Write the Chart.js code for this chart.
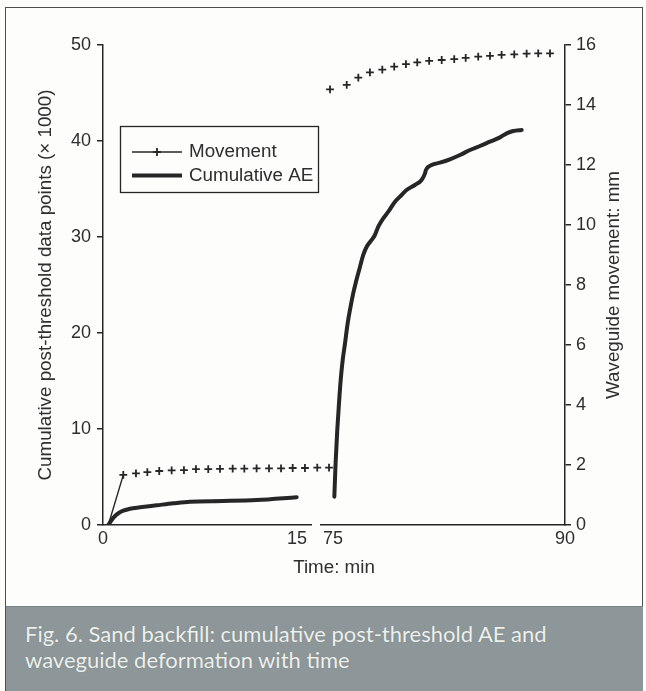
<!DOCTYPE html>
<html>
<head>
<meta charset="utf-8">
<script src="https://cdn.jsdelivr.net/npm/chart.js@4.4.1/dist/chart.umd.min.js"></script>
<style>
  html, body { margin: 0; padding: 0; background: #ffffff; }
  #figure { position: relative; width: 646px; height: 691px; overflow: hidden; background: #fdfdfc; }
  #frame { position: absolute; left: 5px; top: 7px; width: 638px; height: 700px;
           border: 1.5px solid #4d4d4d; border-bottom: none; box-sizing: border-box; }
  #chart { position: absolute; left: 0; top: 0; }
  #caption { position: absolute; left: 6px; right: 3px; top: 606px; bottom: 0;
             background: #8d979a; border-top: 1px solid #7a8386;
             color: #eef0ec; font-family: Lato, 'Open Sans', sans-serif; font-size: 22px;
             line-height: 26px; padding: 14px 0 0 19px; box-sizing: border-box;
             text-shadow: 0 0 1px rgba(90,100,100,0.6); }
</style>
</head>
<body>
<div id="figure">
  <canvas id="chart" width="646" height="606"></canvas>
  <div id="frame"></div>
  <div id="caption">Fig. 6. Sand backfill: cumulative post-threshold AE and<br>waveguide deformation with time</div>
</div>
<script>
// ---- Data ---------------------------------------------------------------
// Cumulative post-threshold AE data points (x 1000), first interval (min)
const aeTimeEarly  = [0.41, 0.67, 0.93, 1.19, 1.57, 2.09, 2.86, 4.15, 5.44, 6.73, 9.30, 11.89, 14.98];
const aeValueEarly = [0.00, 0.52, 0.94, 1.22, 1.49, 1.70, 1.84, 2.05, 2.26, 2.43, 2.50, 2.60, 2.89];

// Cumulative post-threshold AE data points (x 1000), second interval (min)
const aeTimeLate  = [75.09, 75.17, 75.28, 75.39, 75.50, 75.63, 75.78, 75.95, 76.14, 76.31, 76.49, 76.75,
                     76.96, 77.18, 77.50, 77.71, 77.93, 78.25, 78.58, 79.01, 79.33, 79.76, 80.30, 80.73,
                     80.95, 81.01, 81.38, 81.92, 82.56, 83.21, 83.86, 84.50, 85.15, 85.80, 86.23, 86.66, 87.20];
const aeValueLate = [2.95, 6.42, 9.90, 12.67, 15.10, 17.19, 18.92, 21.00, 22.74, 24.13, 25.35, 26.91,
                     28.13, 28.99, 29.69, 30.21, 31.08, 31.94, 32.64, 33.68, 34.20, 34.90, 35.42, 35.94,
                     36.63, 36.98, 37.50, 37.74, 38.09, 38.54, 39.06, 39.48, 39.93, 40.38, 40.80, 41.04, 41.15];

// Waveguide movement (mm), first interval
const moveTimeEarly  = [0.41, 1.57, 2.55, 3.43, 4.35, 5.31, 6.26, 7.19, 8.14, 9.05, 10.03, 10.93,
                        11.88, 12.84, 13.77, 14.67, 15.62, 16.57, 17.48];
const moveValueEarly = [0.00, 1.67, 1.72, 1.76, 1.80, 1.82, 1.83, 1.86, 1.86, 1.87, 1.88, 1.88,
                        1.89, 1.89, 1.89, 1.90, 1.90, 1.91, 1.91];

// Waveguide movement (mm), second interval
const moveTimeLate  = [74.81, 75.89, 76.64, 77.39, 78.19, 78.96, 79.72, 80.45, 81.22, 82.03, 82.84,
                       83.58, 84.39, 85.15, 85.90, 86.72, 87.52, 88.27, 89.03];
const moveValueLate = [14.52, 14.67, 14.91, 15.09, 15.18, 15.28, 15.36, 15.42, 15.47, 15.50, 15.53,
                       15.57, 15.61, 15.64, 15.67, 15.69, 15.71, 15.72, 15.72];

// Axis ticks and labels
const timeTicksEarly = [0, 15];
const timeTicksLate  = [75, 90];
const aeAxisMax = 50, aeAxisStep = 10;
const moveAxisMax = 16, moveAxisStep = 2;
const seriesNames = { move: 'Movement', ae: 'Cumulative AE' };
const titles = {
  time: 'Time: min',
  ae: 'Cumulative post-threshold data points (\u00D7 1000)',
  move: 'Waveguide movement: mm'
};

// ---- Chart --------------------------------------------------------------
const INK = '#262626';
const TEXT = '#2e2e2e';
const FONT = "'Liberation Sans', Arial, Helvetica, sans-serif";
const TITLE_SIZE = 18.8;
Chart.defaults.font.family = FONT;
Chart.defaults.font.size = 18;
Chart.defaults.color = TEXT;

const zip = (xs, ys) => xs.map((x, i) => ({ x, y: ys[i] }));

const aeStyle = {
  showLine: true, borderColor: INK, borderWidth: 4, pointRadius: 0,
  cubicInterpolationMode: 'monotone', fill: false, borderCapStyle: 'round', borderJoinStyle: 'round'
};
const crossRadius = 3.9;

const datasets = [
  {
    label: seriesNames.move, xAxisID: 'x1', yAxisID: 'y2',
    data: zip(moveTimeEarly, moveValueEarly),
    clip: false,   // the last readings run on past the end of the first segment
    showLine: true, borderColor: INK, borderWidth: 1.4,
    pointStyle: 'cross', pointRadius: moveTimeEarly.map((_, i) => i === 0 ? 0 : crossRadius),
    pointBorderWidth: 1.8, pointBorderColor: INK,
    // only the rise to the first reading is joined by a line
    segment: { borderColor: c => c.p0DataIndex === 0 ? INK : 'rgba(0,0,0,0)' }
  },
  {
    label: seriesNames.move, xAxisID: 'x2', yAxisID: 'y2',
    data: zip(moveTimeLate, moveValueLate),
    clip: false,
    showLine: false, borderColor: INK, borderWidth: 1.4,
    pointStyle: 'cross', pointRadius: crossRadius, pointBorderWidth: 1.8, pointBorderColor: INK
  },
  Object.assign({ label: seriesNames.ae, xAxisID: 'x1', yAxisID: 'y', data: zip(aeTimeEarly, aeValueEarly) }, aeStyle),
  Object.assign({ label: seriesNames.ae, xAxisID: 'x2', yAxisID: 'y', data: zip(aeTimeLate, aeValueLate) }, aeStyle)
];

// segment widths of the broken time axis (px)
const seg = { early: 208, gap: 10, late: 244 };
const pxPerMinEarly = 12.93, pxPerMinLate = 15.47;
const earlyRange = { min: 0, max: seg.early / pxPerMinEarly };
const lateRange = { min: 90 - seg.late / pxPerMinLate, max: 90 };

const fixedTicks = values => scale => { scale.ticks = values.map(v => ({ value: v })); };
// range fixed after the data limits so that readings past the segment end are still drawn
const fixedRange = r => scale => { scale.min = r.min; scale.max = r.max; };

const hiddenGrid = { display: false, drawTicks: false };
const axisBorder = { display: true, color: INK, width: 1.5 };

// Legend drawn inside the plot area
const innerLegend = {
  id: 'innerLegend',
  afterDatasetsDraw(chart) {
    const { ctx, chartArea } = chart;
    const x0 = chartArea.left + 17, y0 = chartArea.top + 81, w = 198, h = 66;
    ctx.save();
    ctx.strokeStyle = INK; ctx.lineWidth = 1.3;
    ctx.strokeRect(x0 + 0.5, y0 + 0.5, w, h);
    const seen = [];
    chart.data.datasets.forEach(ds => { if (!seen.find(s => s.label === ds.label)) seen.push(ds); });
    seen.forEach((ds, i) => {
      const cy = y0 + 26 + i * 23.5;
      const lx0 = x0 + 12, lx1 = x0 + 62;
      ctx.strokeStyle = ds.borderColor;
      ctx.lineWidth = ds.pointStyle === 'cross' ? 1.4 : ds.borderWidth;
      ctx.beginPath(); ctx.moveTo(lx0, cy); ctx.lineTo(lx1, cy); ctx.stroke();
      if (ds.pointStyle === 'cross') {
        const cx = (lx0 + lx1) / 2;
        ctx.lineWidth = ds.pointBorderWidth;
        ctx.beginPath();
        ctx.moveTo(cx - crossRadius, cy); ctx.lineTo(cx + crossRadius, cy);
        ctx.moveTo(cx, cy - crossRadius); ctx.lineTo(cx, cy + crossRadius);
        ctx.stroke();
      }
      ctx.fillStyle = TEXT;
      ctx.font = TITLE_SIZE + 'px ' + FONT;
      ctx.textBaseline = 'middle';
      ctx.textAlign = 'left';
      ctx.fillText(ds.label, x0 + 69, cy);
    });
    ctx.restore();
  }
};

// Right-hand axis title, reading bottom to top like the left one
const rightTitle = {
  id: 'rightTitle',
  afterDraw(chart) {
    const { ctx, chartArea } = chart;
    const s = chart.scales.y2;
    ctx.save();
    ctx.translate(s.left + 49, (chartArea.top + chartArea.bottom) / 2);
    ctx.rotate(-Math.PI / 2);
    ctx.fillStyle = TEXT;
    ctx.font = TITLE_SIZE + 'px ' + FONT;
    ctx.textAlign = 'center';
    ctx.textBaseline = 'middle';
    ctx.fillText(titles.move, 0, 0);
    ctx.restore();
  }
};

new Chart(document.getElementById('chart'), {
  type: 'scatter',
  data: { datasets },
  options: {
    responsive: false,
    animation: false,
    devicePixelRatio: 1,
    layout: { padding: { top: 45, left: 0, right: 0, bottom: 0 } },
    plugins: { legend: { display: false }, tooltip: { enabled: false } },
    scales: {
      y: {
        type: 'linear', position: 'left', min: 0, max: aeAxisMax,
        ticks: { stepSize: aeAxisStep, padding: 6 },
        grid: { display: true, drawOnChartArea: false, drawTicks: true, tickLength: 6, color: INK, lineWidth: 1.5 },
        border: axisBorder,
        title: { display: true, text: titles.ae, font: { size: TITLE_SIZE }, padding: { top: 35, bottom: 0 } },
        afterFit: s => { s.width = 103; }
      },
      y2: {
        type: 'linear', position: 'right', min: 0, max: moveAxisMax,
        ticks: { stepSize: moveAxisStep, padding: 5 },
        grid: { display: true, drawOnChartArea: false, drawTicks: true, tickLength: 6, color: INK, lineWidth: 1.5 },
        border: axisBorder,
        afterFit: s => { s.width = 81; }
      },
      x1: {
        type: 'linear', axis: 'x', position: 'bottom', stack: 'time', stackWeight: seg.early, weight: 1,
        bounds: 'data',
        afterDataLimits: fixedRange(earlyRange),
        afterBuildTicks: fixedTicks(timeTicksEarly),
        ticks: { autoSkip: false, maxRotation: 0, padding: 3, callback: v => String(v) },
        grid: hiddenGrid, border: axisBorder,
        afterFit: s => { s.height = 28; }
      },
      xgap: {
        type: 'linear', axis: 'x', position: 'bottom', stack: 'time', stackWeight: seg.gap, weight: 2,
        ticks: { display: false }, grid: hiddenGrid, border: { display: false },
        afterFit: s => { s.height = 28; }
      },
      x2: {
        type: 'linear', axis: 'x', position: 'bottom', stack: 'time', stackWeight: seg.late, weight: 3,
        bounds: 'data',
        afterDataLimits: fixedRange(lateRange),
        afterBuildTicks: fixedTicks(timeTicksLate),
        ticks: { autoSkip: false, maxRotation: 0, padding: 3, callback: v => String(v) },
        grid: hiddenGrid, border: axisBorder,
        afterFit: s => { s.height = 28; }
      },
      xt: {
        type: 'linear', axis: 'x', position: 'bottom', weight: 4,
        ticks: { display: false }, grid: hiddenGrid, border: { display: false },
        title: { display: true, text: titles.time, font: { size: TITLE_SIZE }, padding: { top: 0, bottom: 27 } },
        afterFit: s => { s.height = 53; }
      }
    }
  },
  plugins: [innerLegend, rightTitle]
});
</script>
</body>
</html>
